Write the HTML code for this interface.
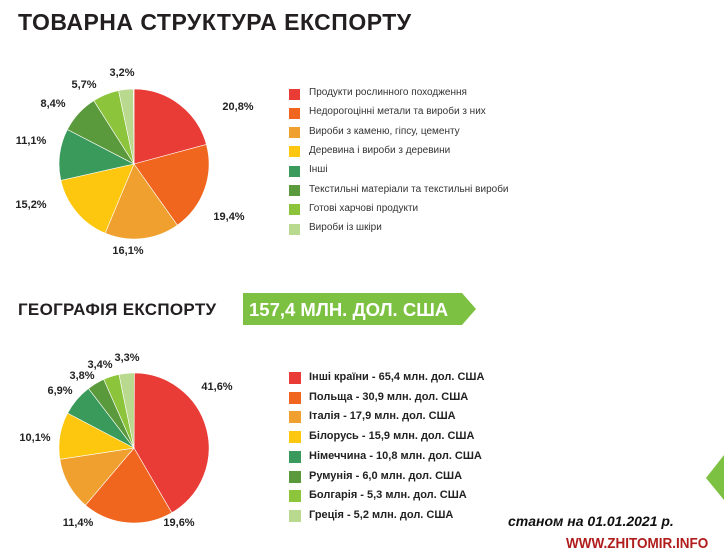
<!DOCTYPE html>
<html><head><meta charset="utf-8"><style>
body{margin:0;width:724px;height:560px;background:#fff;position:relative;overflow:hidden;font-family:"Liberation Sans","DejaVu Sans",sans-serif;}
.a{position:absolute;white-space:nowrap;}
.t1{left:18px;top:9px;font-size:23px;font-weight:bold;color:#231f20;letter-spacing:0.5px;}
.t2{left:18px;top:300px;font-size:17px;font-weight:bold;color:#231f20;letter-spacing:0.3px;}
.lg{font-size:10px;color:#333;}
.lg2{font-size:11px;font-weight:bold;color:#222;}
.sq{position:absolute;width:11px;height:11px;}
.pl{position:absolute;font-size:11px;font-weight:bold;color:#222;transform:translate(-50%,-50%);}
</style></head><body>
<div class="a t1">ТОВАРНА СТРУКТУРА ЕКСПОРТУ</div>
<div class="a t2">ГЕОГРАФІЯ ЕКСПОРТУ</div>
<svg class="a" style="left:0;top:0" width="724" height="560" id="s">
<polygon points="243,293 462,293 476,309 462,325 243,325" fill="#7dc142"/>
<text x="249" y="316" font-family="Liberation Sans,sans-serif" font-weight="bold" font-size="18.5" fill="#fff">157,4 МЛН. ДОЛ. США</text>
<polygon points="724,455 706,478 724,500" fill="#7dc142"/>
</svg>
<div class="a" style="left:508px;top:513px;font-size:14px;font-weight:bold;font-style:italic;color:#111;">станом на 01.01.2021 р.</div>
<div class="a" style="left:566px;top:535px;font-size:15px;font-weight:bold;color:#b01c1c;transform:scaleX(0.9);transform-origin:left;">WWW.ZHITOMIR.INFO</div>
<div id="l"></div>
<script>
var C=["#e93c36","#f0661f","#f0a02e","#fcc70e","#3a9a5c","#5a9a3c","#8cc43c","#b9d98e"];
function pie(cx,cy,r,v){var s=document.getElementById('s'),a=0,h='';
for(var i=0;i<v.length;i++){var b=a+v[i]/100*360;var x1=cx+r*Math.sin(a*Math.PI/180),y1=cy-r*Math.cos(a*Math.PI/180),x2=cx+r*Math.sin(b*Math.PI/180),y2=cy-r*Math.cos(b*Math.PI/180);
h+='<path d="M'+cx+','+cy+'L'+x1+','+y1+'A'+r+','+r+' 0 '+((b-a)>180?1:0)+',1 '+x2+','+y2+'Z" fill="'+C[i]+'" stroke="#fff" stroke-width="0.6"/>';a=b;}
s.insertAdjacentHTML('beforeend',h);}
pie(134,164,75,[20.8,19.4,16.1,15.2,11.1,8.4,5.7,3.2,0.1]);
pie(134,448,75,[41.6,19.6,11.4,10.1,6.9,3.8,3.4,3.3]);
var L1=["Продукти рослинного походження","Недорогоцінні метали та вироби з них","Вироби з каменю, гіпсу, цементу","Деревина і вироби з деревини","Інші","Текстильні матеріали та текстильні вироби","Готові харчові продукти","Вироби із шкіри"];
var L2=["Інші країни - 65,4 млн. дол. США","Польща - 30,9 млн. дол. США","Італія - 17,9 млн. дол. США","Білорусь - 15,9 млн. дол. США","Німеччина - 10,8 млн. дол. США","Румунія - 6,0 млн. дол. США","Болгарія - 5,3 млн. дол. США","Греція - 5,2 млн. дол. США"];
var h='';
for(var i=0;i<8;i++){var y=94+i*19.3;h+='<div class="sq" style="left:289px;top:'+(y-5.5)+'px;background:'+C[i]+'"></div><div class="a lg" style="left:309px;top:'+(y-7)+'px">'+L1[i]+'</div>';
var y2=378+i*19.7;h+='<div class="sq" style="left:289px;top:'+(y2-6)+'px;width:12px;height:12px;background:'+C[i]+'"></div><div class="a lg2" style="left:309px;top:'+(y2-7)+'px">'+L2[i]+'</div>';}
var P=[[238,107,"20,8%"],[229,217,"19,4%"],[128,251,"16,1%"],[31,205,"15,2%"],[31,141,"11,1%"],[53,104,"8,4%"],[84,85,"5,7%"],[122,73,"3,2%"],
[217,387,"41,6%"],[179,523,"19,6%"],[78,523,"11,4%"],[35,438,"10,1%"],[60,391,"6,9%"],[82,376,"3,8%"],[100,365,"3,4%"],[127,358,"3,3%"]];
for(var p of P)h+='<div class="pl" style="left:'+p[0]+'px;top:'+p[1]+'px">'+p[2]+'</div>';
document.getElementById('l').innerHTML=h;
</script>
</body></html>
